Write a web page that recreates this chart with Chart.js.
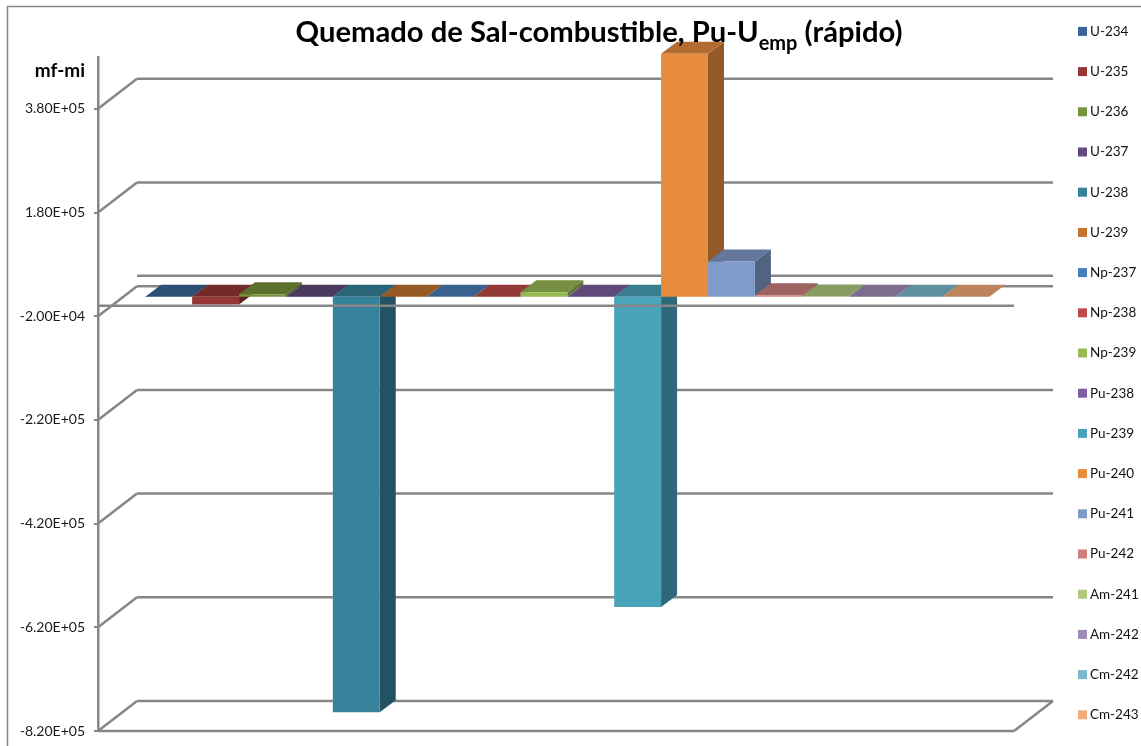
<!DOCTYPE html>
<html>
<head>
<meta charset="utf-8">
<title>Quemado de Sal-combustible</title>
<script src="https://cdn.jsdelivr.net/npm/chart.js@4"></script>
<style>
  html, body { margin: 0; padding: 0; background: #fff; }
  canvas { display: block; }
</style>
</head>
<body>
<canvas id="chart" width="1141" height="746"></canvas>
<script>
const isotopes = ['U-234', 'U-235', 'U-236', 'U-237', 'U-238', 'U-239', 'Np-237', 'Np-238', 'Np-239',
  'Pu-238', 'Pu-239', 'Pu-240', 'Pu-241', 'Pu-242', 'Am-241', 'Am-242', 'Cm-242', 'Cm-243'];
const deltas = [-300, -14800, 5000, -200, -801000, 300, 100, -300, 9000,
  -200, -598000, 469000, 68000, 3000, 600, 100, 100, 200];
const yTicks = [-820000, -620000, -420000, -220000, -20000, 180000, 380000];
const colors = ['#3a6595', '#953735', '#77933c', '#604a7b', '#36829b', '#c4742f', '#4a7ebb', '#be4b48',
  '#98b954', '#7d60a0', '#49a3bb', '#e78b3e', '#7f9bc9', '#cd7f7d', '#afc97f', '#a18cb9', '#7bb8ce', '#f5ab78'];

const LINE = '#868686';
const DEPTH_X = 39, DEPTH_Y = 30;        // profundidad de la caja
const BAR_DX = 11.3, BAR_DY = 9;         // plano de las barras
const BAR_DEPTH_X = 16, BAR_DEPTH_Y = 12;
const FONT = 'Lato, "Open Sans", sans-serif';

function sci(v) {
  const [m, e] = v.toExponential(2).toUpperCase().split('E');
  const exp = e.replace(/[+-]/, '').padStart(2, '0');
  return m + 'E' + e[0] + exp;
}

function shade(hex, f) {
  const n = parseInt(hex.slice(1), 16);
  const c = [n >> 16, (n >> 8) & 255, n & 255].map(x => Math.round(x * f));
  return `rgb(${c[0]},${c[1]},${c[2]})`;
}

function poly(ctx, pts, fill) {
  ctx.beginPath();
  pts.forEach((p, i) => i ? ctx.lineTo(p[0], p[1]) : ctx.moveTo(p[0], p[1]));
  ctx.closePath();
  ctx.fillStyle = fill;
  ctx.fill();
}

function seg(ctx, x1, y1, x2, y2) {
  ctx.beginPath();
  ctx.moveTo(x1, y1);
  ctx.lineTo(x2, y2);
  ctx.stroke();
}

const box3d = {
  id: 'box3d',
  beforeDatasetsDraw(chart) {
    const { ctx, chartArea: a, scales: { y } } = chart;
    ctx.save();
    ctx.strokeStyle = LINE;
    // marco exterior
    ctx.lineWidth = 1.5;
    ctx.strokeRect(7.5, 6.5, 1200, 800);
    ctx.lineWidth = 2.5;
    // paredes
    yTicks.forEach(t => {
      const py = y.getPixelForValue(t);
      seg(ctx, a.left, py, a.left + DEPTH_X, py - DEPTH_Y);
      seg(ctx, a.left + DEPTH_X, py - DEPTH_Y, a.right + DEPTH_X, py - DEPTH_Y);
    });
    const zero = y.getPixelForValue(0);
    seg(ctx, a.left + DEPTH_X, zero - DEPTH_Y, a.right + DEPTH_X, zero - DEPTH_Y);
    seg(ctx, a.left, a.bottom, a.right, a.bottom);
    seg(ctx, a.right, a.bottom, a.right + DEPTH_X, a.bottom - DEPTH_Y);

    // caras lateral y superior, de izquierda a derecha
    isotopes.forEach((name, i) => {
      const el = chart.getDatasetMeta(i).data[0];
      const l = el.x - el.width / 2 + BAR_DX;
      const r = el.x + el.width / 2 + BAR_DX;
      const top = Math.min(el.y, el.base) - BAR_DY;
      const bottom = Math.max(el.y, el.base) - BAR_DY;
      poly(ctx, [[r, top], [r + BAR_DEPTH_X, top - BAR_DEPTH_Y], [r + BAR_DEPTH_X, bottom - BAR_DEPTH_Y], [r, bottom]], shade(colors[i], 0.64));
      poly(ctx, [[l, top], [r, top], [r + BAR_DEPTH_X, top - BAR_DEPTH_Y], [l + BAR_DEPTH_X, top - BAR_DEPTH_Y]], shade(colors[i], 0.77));
    });
    ctx.restore();

    // la cara frontal la pinta Chart.js, desplazada al plano de las barras
    ctx.save();
    ctx.translate(BAR_DX, -BAR_DY);
  },
  afterDatasetsDraw(chart) {
    const { ctx, chartArea: a, scales: { y } } = chart;
    ctx.restore();
    ctx.save();
    // linea del cero por delante de las barras
    ctx.strokeStyle = LINE;
    ctx.lineWidth = 2.5;
    const zero = y.getPixelForValue(0);
    seg(ctx, a.left, zero, a.right, zero);

    // titulo con subindice
    ctx.fillStyle = '#000';
    ctx.textBaseline = 'alphabetic';
    ctx.textAlign = 'left';
    const main = 'Quemado de Sal-combustible, Pu-U', sub = 'emp', tail = ' (rápido)';
    const mainFont = 'bold 29.2px ' + FONT, subFont = 'bold 20px ' + FONT;
    ctx.font = mainFont;
    const w1 = ctx.measureText(main).width, w3 = ctx.measureText(tail).width;
    ctx.font = subFont;
    const w2 = ctx.measureText(sub).width;
    let x = 599 - (w1 + w2 + w3) / 2;
    ctx.font = mainFont;
    ctx.fillText(main, x, 42);
    x += w1;
    ctx.font = subFont;
    ctx.fillText(sub, x, 50);
    x += w2;
    ctx.font = mainFont;
    ctx.fillText(tail, x, 42);

    // titulo del eje
    ctx.font = 'bold 19px ' + FONT;
    ctx.textAlign = 'right';
    ctx.fillText('mf-mi', 85, 77);

    // leyenda
    ctx.font = '13.5px ' + FONT;
    ctx.textAlign = 'left';
    ctx.textBaseline = 'middle';
    isotopes.forEach((name, i) => {
      const ly = 31.4 + i * 40.2;
      ctx.fillStyle = colors[i];
      ctx.fillRect(1078, ly - 4.5, 9, 9);
      ctx.fillStyle = '#111';
      ctx.fillText(name, 1090, ly);
    });
    ctx.restore();
  }
};

new Chart(document.getElementById('chart'), {
  type: 'bar',
  data: {
    labels: ['mf-mi'],
    datasets: isotopes.map((name, i) => ({
      label: name,
      data: [deltas[i]],
      backgroundColor: colors[i],
      borderWidth: 0,
      clip: false,
      barPercentage: 1,
      categoryPercentage: 0.9215
    }))
  },
  plugins: [box3d],
  options: {
    responsive: false,
    animation: false,
    layout: { padding: { left: 0, top: 57, right: 127, bottom: 15 } },
    plugins: {
      legend: { display: false },
      title: { display: false },
      tooltip: { enabled: false }
    },
    scales: {
      x: { display: false },
      y: {
        min: -820000,
        max: 480000,
        afterFit(scale) {
          scale.width = 98;
          scale.paddingTop = 0;
          scale.paddingBottom = 0;
        },
        afterBuildTicks(scale) { scale.ticks = yTicks.map(v => ({ value: v })); },
        border: { color: LINE, width: 2.5 },
        grid: { drawOnChartArea: false, drawTicks: true, tickLength: 4, color: LINE, lineWidth: 2 },
        ticks: {
          color: '#1a1a1a',
          padding: 9,
          font: { family: FONT, size: 14 },
          callback: v => sci(v)
        }
      }
    }
  }
});
</script>
</body>
</html>
